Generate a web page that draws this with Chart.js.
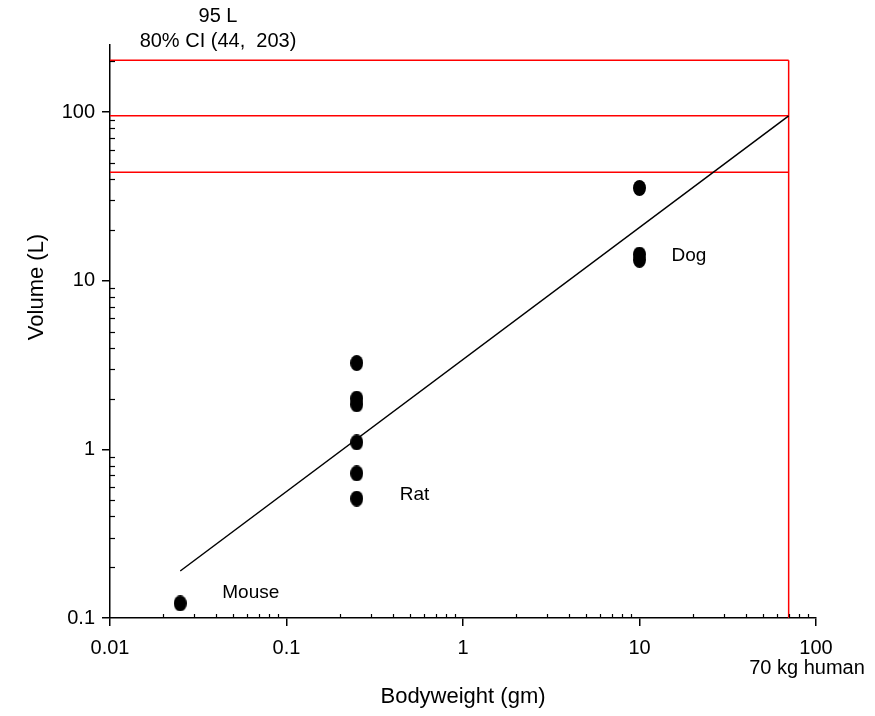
<!DOCTYPE html>
<html>
<head>
<meta charset="utf-8">
<script src="https://cdn.jsdelivr.net/npm/chart.js@4.4.0/dist/chart.umd.min.js"></script>
<style>
html, body { margin: 0; padding: 0; background: #fff; }
#wrap { width: 875px; height: 716px; }
</style>
</head>
<body>
<div id="wrap"><canvas id="chart"></canvas></div>
<script>
// données
const species = ["Mouse", "Rat", "Dog"];
const mouseWeight = [0.025];
const mouseVolume = [0.122];
const ratWeight = [0.25, 0.25, 0.25, 0.25, 0.25, 0.25];
const ratVolume = [3.25, 2.0, 1.85, 1.1, 0.72, 0.51];
const dogWeight = [10, 10, 10];
const dogVolume = [35.5, 14.3, 13.3];

// droite d'ajustement et prédiction humaine
const fitWeight = [0.025, 70];
const fitVolume = [0.19, 95];
const humanWeight = 70;
const predicted = 95;
const ciLow = 44;
const ciHigh = 203;

const xTicks = [0.01, 0.1, 1, 10, 100];
const yTicks = [0.1, 1, 10, 100];

const FONT = "'Liberation Sans', Arial, sans-serif";
Chart.defaults.color = "#000";
Chart.defaults.font.family = FONT;

function toPoints(xs, ys) {
    return xs.map((v, i) => ({ x: v, y: ys[i] }));
}

// point noir légèrement ovale
function makeDot(w, h) {
    const c = document.createElement("canvas");
    c.width = w; c.height = h;
    const g = c.getContext("2d");
    g.fillStyle = "#000";
    g.beginPath();
    g.ellipse(w / 2, h / 2, w / 2, h / 2, 0, 0, Math.PI * 2);
    g.fill();
    return c;
}
const dot = makeDot(13, 16);

const pointSet = (xs, ys, label) => ({
    label: label,
    data: toPoints(xs, ys),
    pointStyle: dot,
    pointRadius: 7,
    showLine: false,
    order: 0
});
const redLine = (pts) => ({
    data: pts,
    showLine: true,
    borderColor: "#ff0000",
    borderWidth: 1.5,
    pointRadius: 0,
    order: 2
});

// graduations secondaires vers l'intérieur + textes
const extras = {
    id: "extras",
    afterDraw(chart) {
        const { ctx, chartArea: a, scales: { x, y } } = chart;
        ctx.save();
        ctx.strokeStyle = "#000";
        ctx.lineWidth = 1.2;
        for (let e = -2; e < 2; e++) {
            for (let m = 2; m <= 9; m++) {
                const px = Math.round(x.getPixelForValue(m * Math.pow(10, e))) + 0.5;
                ctx.beginPath(); ctx.moveTo(px, a.bottom); ctx.lineTo(px, a.bottom - 4); ctx.stroke();
            }
        }
        for (let e = -1; e < 3; e++) {
            for (let m = 2; m <= 9; m++) {
                const v = m * Math.pow(10, e);
                if (v > y.max) break;
                const py = Math.round(y.getPixelForValue(v)) + 0.5;
                ctx.beginPath(); ctx.moveTo(a.left, py); ctx.lineTo(a.left + 5, py); ctx.stroke();
            }
        }

        ctx.fillStyle = "#000";
        ctx.textBaseline = "middle";
        ctx.font = "19px " + FONT;
        ctx.textAlign = "left";
        ctx.fillText(species[0], x.getPixelForValue(mouseWeight[0]) + 42, y.getPixelForValue(mouseVolume[0]) - 11);
        ctx.fillText(species[1], x.getPixelForValue(ratWeight[0]) + 43, y.getPixelForValue(ratVolume[5]) - 4);
        ctx.fillText(species[2], x.getPixelForValue(dogWeight[0]) + 32, y.getPixelForValue(dogVolume[2]) - 4);

        ctx.textAlign = "center";
        ctx.font = "20px " + FONT;
        ctx.fillText(predicted + " L", 218, 16);
        ctx.fillText("80% CI (" + ciLow + ",  " + ciHigh + ")", 218, 41);
        ctx.fillText(humanWeight + " kg human", 807, 668);

        ctx.font = "22px " + FONT;
        ctx.fillText("Bodyweight (gm)", (a.left + a.right) / 2, 697);
        ctx.translate(37, 287);
        ctx.rotate(-Math.PI / 2);
        ctx.fillText("Volume (L)", 0, 0);
        ctx.restore();
    }
};

const ctx0 = document.getElementById("chart");
const chart = new Chart(ctx0, {
    type: "scatter",
    data: {
        datasets: [
            pointSet(mouseWeight, mouseVolume, species[0]),
            pointSet(ratWeight, ratVolume, species[1]),
            pointSet(dogWeight, dogVolume, species[2]),
            {
                data: toPoints(fitWeight, fitVolume),
                showLine: true,
                borderColor: "#000",
                borderWidth: 1.5,
                pointRadius: 0,
                order: 1
            },
            redLine([{ x: 0.01, y: ciHigh }, { x: humanWeight, y: ciHigh }]),
            redLine([{ x: 0.01, y: predicted }, { x: humanWeight, y: predicted }]),
            redLine([{ x: 0.01, y: ciLow }, { x: humanWeight, y: ciLow }]),
            redLine([{ x: humanWeight, y: 0.1 }, { x: humanWeight, y: ciHigh }])
        ]
    },
    options: {
        animation: false,
        responsive: true,
        maintainAspectRatio: false,
        layout: { padding: { top: 45, right: 59, left: 0, bottom: 0 } },
        plugins: {
            legend: { display: false },
            tooltip: { enabled: false }
        },
        scales: {
            x: {
                type: "logarithmic",
                min: 0.01,
                max: 100,
                afterBuildTicks: (s) => { s.ticks = xTicks.map(v => ({ value: v })); },
                afterFit: (s) => { s.height = 98; },
                ticks: {
                    callback: (v) => String(v),
                    font: { size: 20 },
                    padding: 10,
                    maxRotation: 0,
                    autoSkip: false
                },
                grid: {
                    display: true,
                    drawOnChartArea: false,
                    drawTicks: true,
                    tickLength: 8,
                    color: "#000",
                    lineWidth: 1.5
                },
                border: { display: true, color: "#000", width: 1.5 }
            },
            y: {
                type: "logarithmic",
                min: 0.1,
                max: 250,
                afterBuildTicks: (s) => { s.ticks = yTicks.map(v => ({ value: v })); },
                afterFit: (s) => { s.width = 110; },
                ticks: {
                    callback: (v) => String(v),
                    font: { size: 20 },
                    padding: 7,
                    autoSkip: false
                },
                grid: {
                    display: true,
                    drawOnChartArea: false,
                    drawTicks: true,
                    tickLength: 8,
                    color: "#000",
                    lineWidth: 1.5
                },
                border: { display: true, color: "#000", width: 1.5 }
            }
        }
    },
    plugins: [extras]
});
</script>
</body>
</html>
